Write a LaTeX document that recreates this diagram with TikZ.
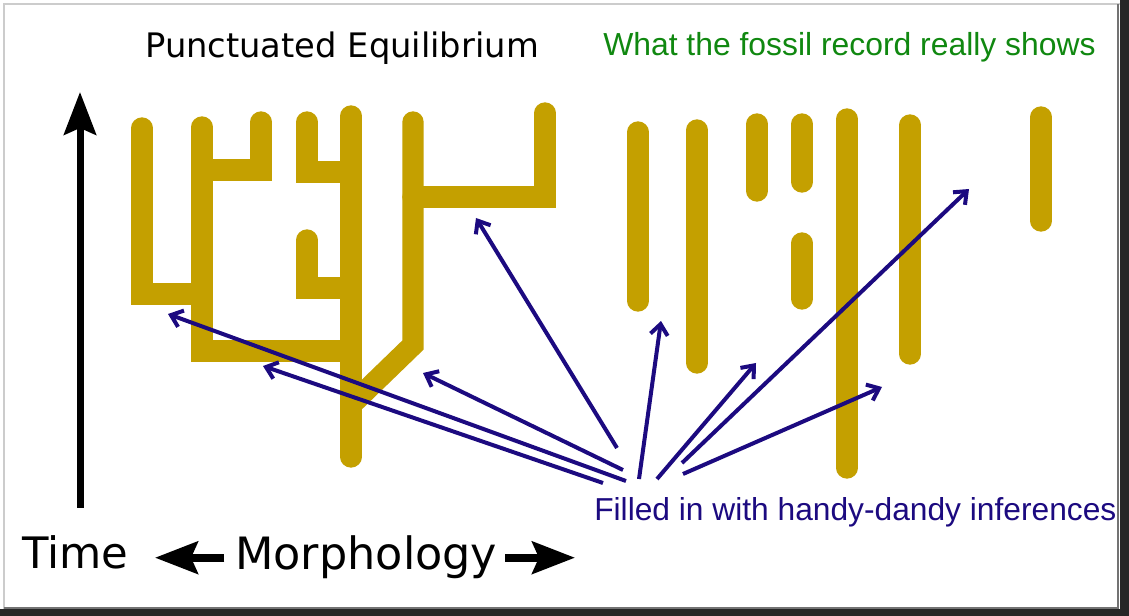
\documentclass[tikz,border=0pt]{standalone}
\usepackage{fontspec}
\setmainfont{DejaVu Sans}
\newfontfamily\arialfont{Liberation Sans}
\usetikzlibrary{arrows.meta}
\definecolor{giallo}{HTML}{C4A000}
\definecolor{blu}{RGB}{28,10,128}
\definecolor{verde}{RGB}{16,136,16}
\begin{document}
\begin{tikzpicture}[x=0.75pt,y=-0.75pt,
    ramo/.style={giallo, line width=16pt, line cap=round, line join=miter},
    freccia/.style={blu, line width=3pt, -{Straight Barb[length=8pt,width=13pt]}},
    nera/.style={black, line width=6pt, -{Stealth[length=32pt,width=24pt,inset=5pt]}},
    testo/.style={inner sep=0pt, anchor=base west}]
    \useasboundingbox (0,0) rectangle (1129,616);

     % Cornice
    \fill[white] (0,0) rectangle (1129,616);
    \draw[black!20, line width=1.5pt] (4,610) -- (4,4) -- (1120,4);
    \draw[black!55, line width=1.5pt] (4,608) -- (1118,608) -- (1118,4);
    \fill[black!85] (1120,0) rectangle (1129,616);
    \fill[black!85] (0,609) rectangle (1129,616);

     % Disegna l'albero
    \draw[ramo] (142,128) -- (142,294) -- (202,294);
    \draw[ramo] (202,127) -- (202,351) -- (351,351);
    \draw[ramo] (202,170) -- (261,170) -- (261,122);
    \draw[ramo] (351,116) -- (351,457);
    \draw[ramo] (307,122) -- (307,172) -- (351,172);
    \draw[ramo] (307,240) -- (307,288) -- (351,288);
    \draw[ramo] (413,122) -- (413,345) -- (351,405);
    \draw[ramo] (413,197) -- (545,197) -- (545,113);

     % Disegna i fossili
    \draw[ramo] (638,132) -- (638,301);
    \draw[ramo] (697,130) -- (697,363);
    \draw[ramo] (757,124) -- (757,191);
    \draw[ramo] (802,124) -- (802,182);
    \draw[ramo] (802,243) -- (802,299);
    \draw[ramo] (847,119) -- (847,468);
    \draw[ramo] (910,125) -- (910,354);
    \draw[ramo] (1041,117) -- (1041,221);

     % Punti delle frecce
    \coordinate (c1) at (623,470); \coordinate (p1) at (423,373);
    \coordinate (c2) at (626,481); \coordinate (p2) at (168,314);
    \coordinate (c3) at (603,483); \coordinate (p3) at (263,366);
    \coordinate (c4) at (617,448); \coordinate (p4) at (476,218);
    \coordinate (c5) at (639,479); \coordinate (p5) at (661,321);
    \coordinate (c6) at (657,479); \coordinate (p6) at (756,363);
    \coordinate (c7) at (682,463); \coordinate (p7) at (969,189);
    \coordinate (c8) at (683,474); \coordinate (p8) at (882,387);

     % Frecce delle inferenze
    \draw[freccia] (c1) -- (p1);
    \draw[freccia] (c2) -- (p2);
    \draw[freccia] (c3) -- (p3);
    \draw[freccia] (c4) -- (p4);
    \draw[freccia] (c5) -- (p5);
    \draw[freccia] (c6) -- (p6);
    \draw[freccia] (c7) -- (p7);
    \draw[freccia] (c8) -- (p8);

     % Testi
    \node[testo, font=\fontsize{25.3}{30}\selectfont] (titolo) at (145,58) {Punctuated Equilibrium};
    \node[testo, font=\arialfont\fontsize{23.9}{28}\selectfont, text=verde] (fossili) at (603,56) {What the fossil record really shows};
    \node[testo, font=\arialfont\fontsize{23.8}{28}\selectfont, text=blu] (inferenze) at (594,521) {Filled in with handy-dandy inferences};
    \node[testo, font=\fontsize{32.5}{38}\selectfont] (tempo) at (22,569) {Time};
    \node[testo, font=\fontsize{33.4}{40}\selectfont] (morfologia) at (235,570) {Morphology};

     % Assi
    \coordinate (t0) at (80,508);
    \coordinate (t1) at (80,92);
    \coordinate (sx) at (155,556);
    \coordinate (dx) at (575,556);
    \draw[nera, line width=5.25pt] (t0) -- (t1);
    \draw[nera] ([xshift=-8pt]morfologia.west) -- (morfologia.west -| sx);
    \draw[nera] ([xshift=6pt]morfologia.east) -- (morfologia.east -| dx);
\end{tikzpicture}
\end{document}
